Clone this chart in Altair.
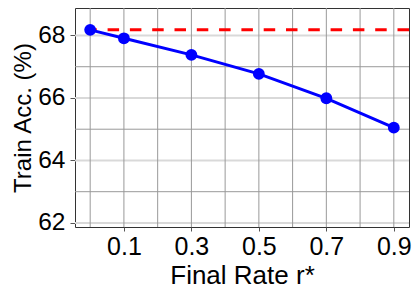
import altair as alt
import pandas as pd

rates = [0.0, 0.1, 0.3, 0.5, 0.7, 0.9]
acc = [68.18, 67.91, 67.38, 66.77, 65.99, 65.05]
baseline = [68.18]
x_ticks = [0.1, 0.3, 0.5, 0.7, 0.9]
y_ticks = [62, 64, 66, 68]
x_minor = [0.0, 0.1, 0.2, 0.3, 0.4, 0.5, 0.6, 0.7, 0.8, 0.9]
y_minor = [63, 65, 67]

FONT = "Liberation Sans"

df = pd.DataFrame({"r": rates, "acc": acc})
xs = alt.Scale(domain=[-0.045, 0.945], nice=False, zero=False)
ys = alt.Scale(domain=[61.87, 68.88], nice=False, zero=False)

xaxis = alt.Axis(
    values=x_ticks, format=".1f", title="Final Rate r*", grid=False,
    domain=False, tickSize=4, tickColor="#555555", labelPadding=3,
    labelFontSize=25, titleFontSize=26, titlePadding=3,
)
yaxis = alt.Axis(
    values=y_ticks, format="d", title="Train Acc. (%)", grid=False,
    domain=False, tickSize=5, tickColor="#555555", labelPadding=5,
    labelFontSize=24.5, titleFontSize=24, titlePadding=2,
)

ygrid_major = alt.Chart(pd.DataFrame({"y": y_ticks})).mark_rule(
    color="#d9d9d9", strokeWidth=2
).encode(y=alt.Y("y:Q", scale=ys, axis=yaxis))

ygrid_minor = alt.Chart(pd.DataFrame({"y": y_minor})).mark_rule(
    color="#999999", strokeWidth=1
).encode(y=alt.Y("y:Q", scale=ys, axis=yaxis))

xgrid = alt.Chart(pd.DataFrame({"x": x_minor})).mark_rule(
    color="#999999", strokeWidth=1
).encode(x=alt.X("x:Q", scale=xs, axis=xaxis))

base_rule = alt.Chart(pd.DataFrame({"b": baseline})).mark_rule(
    color="red", strokeWidth=3, strokeDash=[11.5, 10.8]
).encode(y=alt.Y("b:Q", scale=ys, axis=yaxis))

line = alt.Chart(df).mark_line(color="blue", strokeWidth=3).encode(
    x=alt.X("r:Q", scale=xs, axis=xaxis),
    y=alt.Y("acc:Q", scale=ys, axis=yaxis),
)
points = alt.Chart(df).mark_circle(size=140, color="blue", opacity=1).encode(
    x=alt.X("r:Q", scale=xs, axis=xaxis),
    y=alt.Y("acc:Q", scale=ys, axis=yaxis),
)

chart = alt.layer(ygrid_major, ygrid_minor, xgrid, base_rule, line, points).properties(
    width=334, height=219,
    autosize=alt.AutoSizeParams(type="none"),
    padding={"left": 67, "top": 0, "right": 3, "bottom": 65},
).configure_view(
    stroke="#333333", strokeWidth=1
).configure_axis(
    labelFont=FONT, titleFont=FONT,
    labelColor="black", titleColor="black", titleFontWeight="normal",
)

chart.save("out.html", embed_options={"renderer": "svg", "actions": False})
